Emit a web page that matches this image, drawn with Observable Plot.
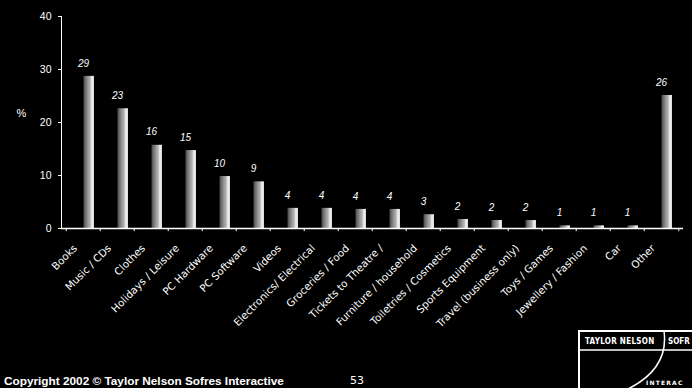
<!DOCTYPE html>
<html>
<head>
<meta charset="utf-8">
<script src="https://cdn.jsdelivr.net/npm/d3@7"></script>
<script src="https://cdn.jsdelivr.net/npm/@observablehq/plot@0.6"></script>
<style>
  html, body { margin: 0; padding: 0; background: #000; }
  #wrap { position: relative; width: 692px; height: 388px; overflow: hidden; background: #000; }
  #footer { position: absolute; left: 4px; top: 374px; color: #fff; font: bold 11.8px "Liberation Sans", Arial, sans-serif; white-space: nowrap; }
  #page { position: absolute; left: 350px; top: 374px; color: #fff; font: 11px "DejaVu Sans", sans-serif; }
  #logo { position: absolute; left: 578px; top: 330px; }
</style>
</head>
<body>
<div id="wrap">
  <div id="chart"></div>
  <div id="footer">Copyright 2002 © Taylor Nelson Sofres Interactive</div>
  <div id="page">53</div>
  <svg id="logo" width="114" height="58">
    <rect x="1" y="1" width="130" height="70" fill="none" stroke="#fff" stroke-width="2"/>
    <line x1="1" y1="20" x2="114" y2="20" stroke="#fff" stroke-width="1.5"/>
    <path d="M86 1 C 90 30, 73 48, 48 60" fill="none" stroke="#fff" stroke-width="1.5"/>
    <text x="7" y="14" fill="#fff" font-family="DejaVu Sans Condensed, DejaVu Sans, sans-serif" font-weight="bold" font-size="8" letter-spacing="0.3">TAYLOR NELSON</text>
    <text x="90" y="14" fill="#fff" font-family="DejaVu Sans Condensed, DejaVu Sans, sans-serif" font-weight="bold" font-size="8">SOFR</text>
    <text x="68" y="55" fill="#fff" font-family="DejaVu Sans, sans-serif" font-weight="bold" font-size="6" letter-spacing="1.2">INTERAC</text>
  </svg>
</div>
<script>
const categories = ["Books", "Music / CDs", "Clothes", "Holidays / Leisure", "PC Hardware", "PC Software", "Videos", "Electronics/ Electrical", "Groceries / Food", "Tickets to Theatre /", "Furniture / household", "Toiletries / Cosmetics", "Sports Equipment", "Travel (business only)", "Toys / Games", "Jewellery / Fashion", "Car", "Other"];
const values = [28.7, 22.6, 15.7, 14.7, 9.8, 8.8, 3.8, 3.8, 3.6, 3.6, 2.6, 1.7, 1.5, 1.5, 0.5, 0.5, 0.5, 25.1];
const labels = ["29", "23", "16", "15", "10", "9", "4", "4", "4", "4", "3", "2", "2", "2", "1", "1", "1", "26"];
const yTicks = [0, 10, 20, 30, 40];

const data = categories.map((c, i) => ({category: c, value: values[i], label: labels[i]}));

const W = 692, H = 388, mL = 61, mR = 9, mT = 16, mB = 160;
const step = (W - mL - mR) / categories.length;

const defs = () => {
  const ns = "http://www.w3.org/2000/svg";
  const d = document.createElementNS(ns, "defs");
  const g = document.createElementNS(ns, "linearGradient");
  g.setAttribute("id", "barGrad");
  g.setAttribute("x1", "0"); g.setAttribute("x2", "1"); g.setAttribute("y1", "0"); g.setAttribute("y2", "0");
  [["0%", "#4a4a4a"], ["35%", "#8a8a8a"], ["65%", "#b8b8b8"], ["80%", "#f2f2f2"], ["100%", "#d8d8d8"]].forEach(([o, c]) => {
    const s = document.createElementNS(ns, "stop");
    s.setAttribute("offset", o); s.setAttribute("stop-color", c);
    g.appendChild(s);
  });
  d.appendChild(g);
  return d;
};

const chart = Plot.plot({
  width: W, height: H,
  marginLeft: mL, marginRight: mR, marginTop: mT, marginBottom: mB,
  style: {background: "#000", color: "#fff", fontFamily: "'Liberation Sans', Arial, sans-serif", fontSize: "10.5px", overflow: "visible"},
  x: {domain: categories, padding: 0, label: null},
  y: {domain: [0, 40], ticks: yTicks, label: null, tickSize: 3, tickPadding: 7, line: true},
  marks: [
    defs,
    Plot.barY(data, {x: "category", y: "value", fill: "url(#barGrad)", insetLeft: 17.5, insetRight: 6}),
    Plot.text(data, {x: "category", y: "value", text: "label", dy: -13, fill: "#fff", fontStyle: "italic", fontSize: 10}),
    Plot.ruleY([0], {stroke: "#fff", strokeWidth: 1.5}),
    Plot.ruleX(categories, {x: d => d, y1: 0, y2: -0.6, dx: -step / 2, stroke: "#fff"}),
    Plot.ruleX([categories[categories.length - 1]], {x: d => d, y1: 0, y2: -0.6, dx: step / 2, stroke: "#fff"}),
    Plot.axisX({tickRotate: -45, tickSize: 0, tickPadding: 15, dx: -8, dy: 3, label: null, fontFamily: "DejaVu Sans, sans-serif", fontSize: 10.3}),
    Plot.text(["%"], {frameAnchor: "left", text: d => d, dx: -45, dy: -9, fill: "#fff", fontSize: 11})
  ]
});
document.getElementById("chart").appendChild(chart);
</script>
</body>
</html>
